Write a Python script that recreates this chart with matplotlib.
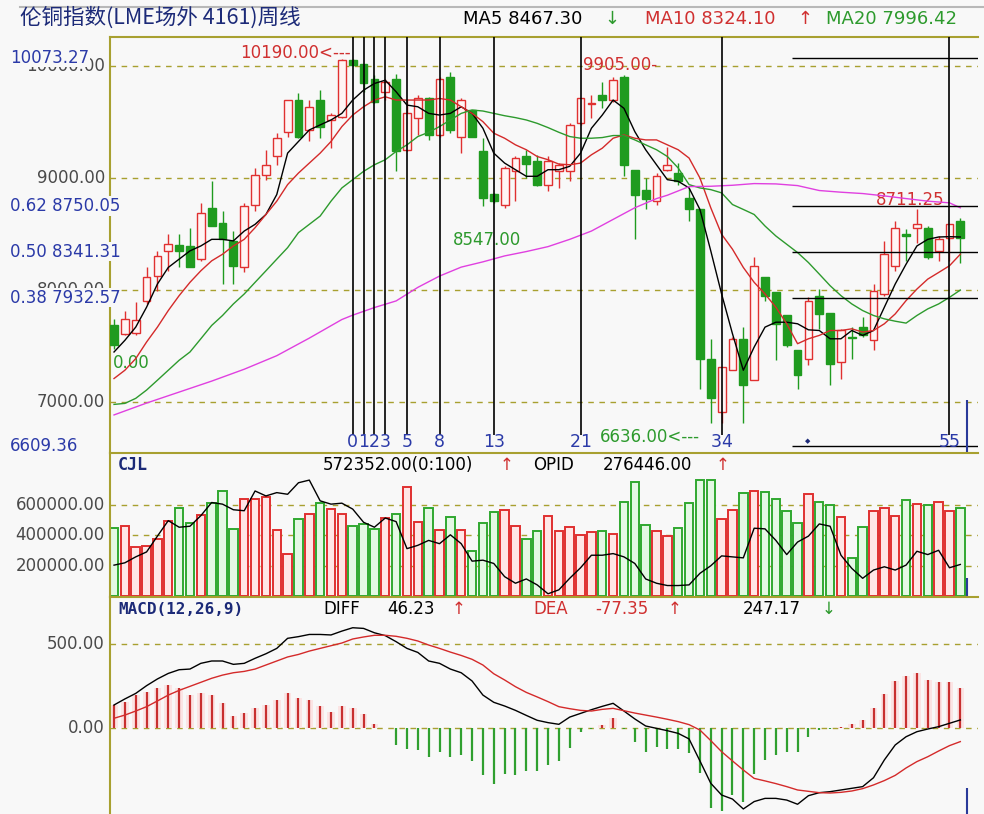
import matplotlib
matplotlib.use("Agg")
import matplotlib.pyplot as plt
from matplotlib.patches import Rectangle
from matplotlib.lines import Line2D

plt.rcParams['font.family'] = ['DejaVu Sans', 'Noto Sans CJK SC']

title = "伦铜指数(LME场外 4161)周线"

# weekly candles
opens = [7683, 7609, 7620, 7905, 8127, 8349, 8402, 8393, 8275, 8734,
         8600, 8438, 8201, 8763, 9030, 9192, 9414, 9696, 9429, 9696,
         9518, 9548, 10050, 10020, 9888, 9770, 9888, 9252, 9533, 9710,
         9385, 9903, 9370, 9607, 9237, 8858, 8763, 9059, 9192, 9148,
         8941, 9059, 9059, 9488, 9660, 9740, 9696, 9903, 9074, 8896,
         8793, 9074, 9044, 8822, 8719, 7387, 6913, 7283, 7564, 7194,
         8118, 7979, 7772, 7461, 7387, 7949, 7792, 7357, 7579, 7668,
         7550, 7964, 8216, 8497, 8556, 8556, 8349, 8467, 8615]
highs = [7742, 7816, 7890, 8201, 8349, 8497, 8497, 8556, 8778, 8976,
         8704, 8526, 8778, 9089, 9252, 9400, 9696, 9755, 9696, 9784,
         9577, 10066, 10060, 10020, 9918, 9888, 9932, 9696, 9740, 9725,
         9903, 9947, 9710, 9607, 9355, 8867, 9104, 9192, 9252, 9207,
         9192, 9133, 9488, 9710, 9740, 9858, 9903, 9918, 9074, 9000,
         9044, 9281, 9133, 8911, 8719, 7564, 7313, 7579, 7668, 8290,
         8118, 7979, 7772, 7461, 7934, 8008, 7792, 7653, 7668, 7757,
         8053, 8438, 8615, 8541, 8719, 8571, 8482, 8586, 8645]
lows = [7476, 7594, 7594, 7875, 7994, 8171, 8201, 8201, 8260, 8571,
        8053, 8053, 8156, 8704, 8985, 9118, 9370, 9355, 9326, 9355,
        9266, 9533, 10000, 9770, 9666, 9696, 9059, 9237, 9385, 9340,
        9370, 9400, 9222, 9370, 8748, 8778, 8734, 8793, 9000, 8926,
        8882, 8911, 8970, 9474, 9533, 9622, 9681, 9015, 8452, 8719,
        8763, 9059, 8941, 8615, 7120, 6810, 6810, 7283, 6810, 7194,
        7905, 7372, 7490, 7120, 7328, 7653, 7150, 7209, 7387, 7579,
        7461, 7949, 8171, 8260, 8423, 8275, 8260, 8260, 8245]
closes = [7505, 7742, 7730, 8112, 8304, 8408, 8349, 8201, 8689, 8571,
          8452, 8216, 8748, 9030, 9118, 9355, 9696, 9370, 9636, 9459,
          9562, 10050, 10006, 9844, 9681, 9858, 9237, 9577, 9710, 9385,
          9888, 9429, 9696, 9370, 8822, 8793, 9089, 9178, 9124, 8941,
          9148, 9118, 9474, 9710, 9672, 9696, 9873, 9118, 8852, 8808,
          9015, 9118, 8970, 8719, 7387, 7032, 7313, 7564, 7150, 8216,
          7949, 7698, 7505, 7239, 7905, 7786, 7342, 7638, 7570, 7594,
          7994, 8319, 8556, 8482, 8586, 8290, 8452, 8586, 8467]

ma5 = [7446, 7550, 7668, 7846, 8053, 8201, 8275, 8349, 8393, 8452,
       8452, 8438, 8526, 8586, 8674, 8852, 9222, 9326, 9429, 9474,
       9518, 9577, 9696, 9784, 9844, 9873, 9770, 9651, 9636, 9577,
       9562, 9577, 9636, 9577, 9444, 9222, 9133, 9074, 9015, 9015,
       9074, 9074, 9104, 9222, 9444, 9562, 9696, 9622, 9414, 9252,
       9118, 8985, 8970, 8911, 8719, 8349, 7964, 7609, 7283, 7490,
       7668, 7712, 7712, 7698, 7644, 7638, 7564, 7564, 7638, 7594,
       7638, 7846, 8053, 8230, 8393, 8452, 8473, 8476, 8473]
ma10 = [7209, 7283, 7387, 7535, 7668, 7816, 7949, 8068, 8171, 8260,
        8319, 8393, 8452, 8556, 8674, 8793, 8941, 9044, 9133, 9222,
        9326, 9459, 9562, 9636, 9696, 9725, 9696, 9696, 9696, 9696,
        9710, 9696, 9636, 9577, 9503, 9400, 9355, 9296, 9252, 9192,
        9163, 9124, 9118, 9133, 9207, 9266, 9355, 9385, 9355, 9340,
        9340, 9296, 9252, 9178, 9000, 8734, 8497, 8364, 8201, 8068,
        7964, 7846, 7698, 7520, 7564, 7594, 7638, 7638, 7653, 7624,
        7638, 7698, 7786, 7905, 8008, 8097, 8156, 8216, 8319]
ma20 = [6978, 6987, 7032, 7106, 7194, 7283, 7372, 7446, 7564, 7683,
        7772, 7875, 7964, 8068, 8171, 8275, 8378, 8512, 8586, 8660,
        8793, 8911, 8985, 9059, 9118, 9163, 9237, 9296, 9370, 9408,
        9459, 9518, 9577, 9607, 9598, 9577, 9556, 9539, 9518, 9488,
        9450, 9408, 9370, 9355, 9355, 9361, 9379, 9379, 9340, 9296,
        9252, 9192, 9089, 8941, 8911, 8896, 8867, 8763, 8719, 8674,
        8571, 8482, 8408, 8334, 8245, 8142, 8038, 7949, 7875, 7816,
        7772, 7742, 7721, 7704, 7772, 7831, 7875, 7934, 7999]
ma60_idx = [0, 3, 6, 9, 12, 15, 18, 21, 22, 24, 26, 28, 30, 32, 34, 36, 38, 40, 42,
            44, 46, 48, 50, 51, 53, 55, 57, 59, 61, 63, 65, 67, 69, 71, 73, 75, 77, 78]
ma60 = [6884, 6990, 7088, 7186, 7292, 7413, 7570, 7736, 7775, 7843, 7902, 8023, 8124,
        8204, 8251, 8304, 8343, 8387, 8452, 8526, 8630, 8734, 8816, 8846, 8923, 8926,
        8935, 8950, 8947, 8932, 8888, 8873, 8861, 8840, 8816, 8793, 8778, 8734]

volume = [446100, 463000, 322600, 329000, 376700, 495700, 575800, 480600, 532500, 614800,
          690500, 441600, 636400, 636400, 653700, 437300, 275000, 506500, 539000, 610400,
          571500, 539000, 463000, 474100, 441600, 510800, 539000, 716500, 489200, 575800,
          437300, 517400, 437300, 294400, 480600, 549800, 567200, 463000, 376700, 430800,
          523900, 430800, 452400, 398300, 419900, 430800, 409100, 621300, 751100, 469600,
          430800, 394000, 446100, 610400, 759800, 759800, 506500, 567200, 679700, 690500,
          684000, 636400, 560700, 480600, 673200, 621300, 597500, 517400, 253300, 452400,
          560700, 575800, 523900, 629900, 604000, 597500, 619100, 560700, 575800]
vol_line = [203300, 218600, 257600, 290000, 393900, 495700, 452400, 458900, 528200, 614800,
            604000, 567200, 560700, 690500, 658000, 679700, 668900, 744600, 762000, 625600,
            604000, 610400, 571500, 484900, 452400, 513000, 489200, 311700, 333400, 365900,
            344200, 402600, 344200, 229500, 235900, 214300, 127700, 84400, 112600, 73600,
            15200, 41100, 116900, 186100, 268400, 268400, 279200, 257600, 214300, 112600,
            84400, 69300, 69300, 73600, 149400, 199100, 264100, 257600, 251100, 445900,
            441600, 365900, 272700, 355000, 393900, 474100, 458900, 268400, 181800, 116900,
            171000, 192600, 171000, 203500, 294400, 272700, 300900, 186100, 207800]

macd_hist = [139, 159, 198, 218, 242, 258, 238, 198, 212, 198,
             149, 75, 89, 119, 139, 169, 212, 179, 169, 133,
             99, 133, 123, 83, 26, 2, -99, -123, -129, -173,
             -139, -173, -159, -194, -278, -333, -274, -278, -254, -254,
             -218, -194, -115, -20, -3, 20, 63, -5, -83, -139,
             -109, -123, -123, -149, -268, -476, -492, -397, -436, -274,
             -188, -159, -139, -139, -50, -10, -2, 10, 24, 50,
             119, 202, 282, 313, 331, 288, 274, 274, 242]
diff = [139, 175, 208, 254, 294, 327, 349, 353, 387, 401,
        401, 381, 387, 417, 444, 476, 536, 546, 559, 559,
        556, 579, 599, 595, 569, 552, 516, 476, 452, 401,
        387, 353, 331, 282, 198, 155, 133, 107, 77, 48,
        34, 24, 67, 89, 111, 131, 149, 103, 56, 14,
        0, -14, -30, -63, -194, -327, -397, -421, -480, -436,
        -417, -417, -427, -452, -401, -383, -377, -367, -357, -347,
        -294, -188, -99, -50, -20, -4, 10, 30, 50]
dea = [60, 79, 103, 129, 163, 198, 226, 250, 274, 298,
       317, 331, 339, 353, 377, 401, 425, 440, 460, 476,
       492, 508, 532, 544, 554, 554, 548, 536, 520, 496,
       476, 454, 434, 411, 377, 325, 288, 248, 214, 187,
       159, 129, 117, 107, 103, 113, 119, 105, 91, 79,
       67, 54, 40, 22, -10, -73, -139, -194, -248, -298,
       -313, -329, -347, -367, -375, -383, -385, -381, -373, -359,
       -337, -311, -280, -236, -198, -169, -135, -103, -79]

fib_start = 22
fib_nums = [0, 1, 2, 3, 5, 8, 13, 21, 34, 55]
gold_levels = [10073.27, 8750.05, 8341.31, 7932.57, 6609.36]
gold_tags = ["10073.27", "0.62 8750.05", "0.50 8341.31", "0.38 7932.57", "6609.36"]
price_grid = [10000, 9000, 8000, 7000]
vol_grid = [200000, 400000, 600000]
macd_grid = [0, 500]

BG = '#f8f8f8'
RED = '#e03030'
GREEN = '#1f9b1f'
OLIVE = '#a8a030'
BLUE = '#2b3aa8'
GRAY = '#4a4a4a'
NAVY = '#1c2a78'

W, H = 984, 814


def px_rect(x0, y0, x1, y1):
    return [x0 / W, 1 - y1 / H, (x1 - x0) / W, (y1 - y0) / H]


fig = plt.figure(figsize=(W / 100, H / 100), dpi=100, facecolor=BG)
ax1 = fig.add_axes(px_rect(110, 37, 978, 453))
ax2 = fig.add_axes(px_rect(110, 453, 978, 597))
ax3 = fig.add_axes(px_rect(110, 597, 978, 814))

n = len(closes)
xs = list(range(n))
for ax in (ax1, ax2, ax3):
    ax.set_facecolor(BG)
    ax.set_xlim(-0.37, 79.63)
    ax.set_xticks([])
    ax.set_yticks([])
    for s in ('right', 'bottom'):
        ax.spines[s].set_visible(False)
    for s in ('left', 'top'):
        ax.spines[s].set_color(OLIVE)
        ax.spines[s].set_linewidth(1.5)

ax1.set_ylim(6544, 10259)
ax2.set_ylim(-6000, 940000)
ax3.set_ylim(-510, 782)

dash = (0, (4, 4))
for v in price_grid:
    ax1.axhline(v, color=OLIVE, lw=1, ls=dash, zorder=1)
for v in vol_grid:
    ax2.axhline(v, color=OLIVE, lw=1, ls=dash, zorder=1)
for v in macd_grid:
    ax3.axhline(v, color=OLIVE, lw=1, ls=dash, zorder=1)

# candles
ups = [c >= o for o, c in zip(opens, closes)]
for i in xs:
    o, h, l, c = opens[i], highs[i], lows[i], closes[i]
    col = RED if ups[i] else GREEN
    ax1.vlines(i, l, h, color=col, lw=1, zorder=3)
    bot = min(o, c)
    ax1.add_patch(Rectangle((i - 0.36, bot), 0.72, max(abs(c - o), 6),
                            facecolor='#fff4f4' if ups[i] else col,
                            edgecolor=col, lw=1, zorder=4))

ax1.plot(xs, ma5, color='black', lw=1, zorder=5)
ax1.plot(xs, ma10, color='#d42a2a', lw=1, zorder=5)
ax1.plot(xs, ma20, color='#2d9a2d', lw=1, zorder=5)
ax1.plot(ma60_idx, ma60, color='#e040e0', lw=1, zorder=5)

# fibonacci time lines
fib_x = [fib_start + k for k in fib_nums]
ax1.vlines(fib_x, 6705, 10259, color='black', lw=1.2, zorder=6)
for k, x in zip(fib_nums, fib_x):
    for j, ch in enumerate(str(k)):
        off = (j - (len(str(k)) - 1) / 2) * 0.95
        ax1.text(x + off, 6642, ch, ha='center', va='center', color=BLUE, fontsize=12.5, zorder=7)

# golden section lines
ax1.hlines(gold_levels, 62.5, 79.63, color='black', lw=1, zorder=6)
ax1.text(63.9, 6651, '◆', ha='center', va='center', color=NAVY, fontsize=5)
ax1.vlines(n - 0.4, 6544, 7018, color='#2a3a9a', lw=1.5, zorder=7)

ax1.text(21.8, 10116, '10190.00<---', ha='right', va='center', color='#d03030', fontsize=12)
ax1.text(43.2, 10009, '9905.00-', ha='left', va='center', color='#d03030', fontsize=12)
ax1.text(31.2, 8446, '8547.00', ha='left', va='center', color='#2d9a2d', fontsize=12)
ax1.text(44.8, 6687, '6636.00<---', ha='left', va='center', color='#2d9a2d', fontsize=12)
ax1.text(70.2, 8803, '8711.25', ha='left', va='center', color='#d03030', fontsize=12)
ax1.text(-0.1, 7348, '0.00', ha='left', va='center', color='#2d9a2d', fontsize=12)

# left scale labels
xr = -5 / 868
xl = -100 / 868
for v in price_grid:
    ax1.text(xr, v, f'{v:.2f}', transform=ax1.get_yaxis_transform(), ha='right',
             va='center', color=GRAY, fontsize=12)
for v, s in zip(gold_levels, gold_tags):
    ax1.text(xl, v, s, transform=ax1.get_yaxis_transform(), ha='left', va='center',
             color=BLUE, fontsize=12, zorder=8,
             bbox=dict(facecolor=BG, edgecolor='none', pad=0.5))

# volume
vcols = [RED if u else '#30a830' for u in ups]
vfill = ['#ffe6e6' if u else '#e4f8e4' for u in ups]
ax2.bar(xs, volume, width=0.78, color=vfill, edgecolor=vcols, lw=1.4, zorder=2)
ax2.plot(xs, vol_line, color='black', lw=1, zorder=3)
ax2.vlines(n - 0.4, 0, 117000, color='#2a3a9a', lw=1.5, zorder=4)
for v in vol_grid:
    ax2.text(xr, v, f'{v:.2f}', transform=ax2.get_yaxis_transform(), ha='right',
             va='center', color=GRAY, fontsize=12)

# macd
pos = [max(h, 0) for h in macd_hist]
ax3.bar(xs, pos, width=0.7, color='#fbe4e4', zorder=1)
hcols = ['#c83030' if h >= 0 else '#30a030' for h in macd_hist]
ax3.vlines(xs, 0, macd_hist, colors=hcols, lw=1.6, zorder=2)
ax3.plot(xs, diff, color='black', lw=1, zorder=3)
ax3.plot(xs, dea, color='#d42a2a', lw=1, zorder=3)
ax3.vlines(n - 0.4, -510, -357, color='#2a3a9a', lw=1.5, zorder=4)
for v in macd_grid:
    ax3.text(xr, v, f'{v:.2f}', transform=ax3.get_yaxis_transform(), ha='right',
             va='center', color=GRAY, fontsize=12)


def ftext(x, y, s, color='black', size=12, **kw):
    fig.text(x / W, 1 - y / H, s, color=color, fontsize=size, va='center', ha='left', **kw)


fig.add_artist(Line2D([20 / W, 1], [1 - 7 / H] * 2, color='#b8b8b8', lw=1.5))
ftext(20, 18, title, NAVY, 15.5, family=['Noto Sans CJK SC'])
ftext(463, 19, 'MA5 8467.30', 'black', 13)
ftext(604, 19, '↓', '#2d9a2d', 13)
ftext(645, 19, 'MA10 8324.10', '#d03030', 13)
ftext(797, 19, '↑', '#d03030', 13)
ftext(826, 19, 'MA20 7996.42', '#2d9a2d', 13)

ftext(118, 465, 'CJL', NAVY, 12, family=['DejaVu Sans Mono'], weight='bold')
ftext(323, 465, '572352.00(0:100)', 'black', 12)
ftext(500, 465, '↑', '#d03030', 12)
ftext(533, 465, 'OPID', 'black', 12)
ftext(603, 465, '276446.00', 'black', 12)
ftext(716, 465, '↑', '#d03030', 12)

ftext(118, 609, 'MACD(12,26,9)', NAVY, 11.5, family=['DejaVu Sans Mono'], weight='bold')
ftext(323, 609, 'DIFF', 'black', 12)
ftext(387, 609, '46.23', 'black', 12)
ftext(452, 609, '↑', '#d03030', 12)
ftext(533, 609, 'DEA', '#d03030', 12)
ftext(595, 609, '-77.35', '#d03030', 12)
ftext(668, 609, '↑', '#d03030', 12)
ftext(743, 609, '247.17', 'black', 12)
ftext(822, 609, '↓', '#2d9a2d', 12)

fig.savefig('out.png', dpi=100, facecolor=BG)
